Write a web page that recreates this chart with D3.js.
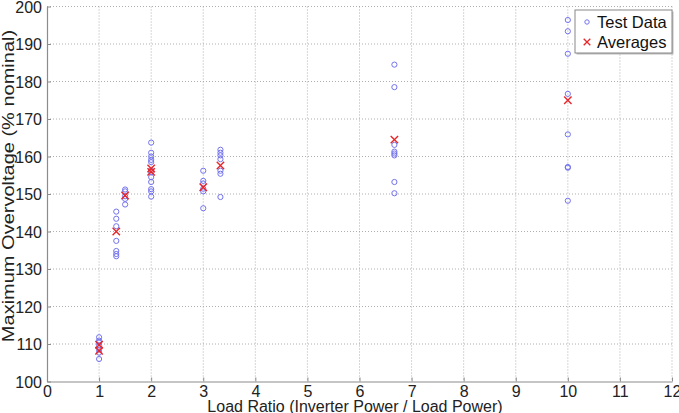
<!DOCTYPE html>
<html>
<head>
<meta charset="utf-8">
<script src="https://cdn.jsdelivr.net/npm/d3@7"></script>
<style>
  body { margin: 0; background: #fff; }
  svg text { font-family: "Liberation Sans", Arial, sans-serif; }
</style>
</head>
<body>
<svg id="chart" width="679" height="413"></svg>
<script>
// load ratio for each test group
const ratios = [1, 1.33, 1.5, 2, 3, 3.33, 6.67, 10];

// measured overvoltage (% nominal) per group
const testData = [
  [111.8, 110.9, 110.4, 109.6, 108.5, 107.7, 106.0],
  [145.3, 143.4, 141.4, 137.5, 134.8, 134.0, 133.4],
  [151.2, 150.7, 149.4, 148.7, 147.2],
  [163.7, 161.0, 160.0, 159.1, 158.5, 156.3, 155.8, 154.5, 153.2, 151.3, 150.7, 149.3],
  [156.2, 153.5, 152.8, 151.4, 150.7, 146.2],
  [161.8, 161.0, 160.3, 159.3, 156.2, 155.4, 149.2],
  [184.5, 178.5, 163.1, 161.3, 160.8, 160.3, 153.2, 150.2],
  [196.4, 193.4, 187.4, 176.7, 165.9, 157.2, 157.0, 148.2]
];

// averages (some ratios have two)
const avgX = [1, 1, 1.33, 1.5, 2, 2, 3, 3.33, 6.67, 10];
const avgY = [109.8, 108.2, 140.0, 149.6, 156.8, 155.9, 151.8, 157.6, 164.5, 175.0];

const xTicks = d3.range(0, 13);
const yTicks = d3.range(100, 201, 10);

const margin = {top: 6.5, right: 7, bottom: 31.5, left: 47};
const svg = d3.select("#chart");
const width = 679 - margin.left - margin.right;
const height = 413 - margin.top - margin.bottom;

const x = d3.scaleLinear().domain([0, 12]).range([0, width]);
const y = d3.scaleLinear().domain([100, 200]).range([height, 0]);

const g = svg.append("g").attr("transform", "translate(" + margin.left + "," + margin.top + ")");

// dotted grid
g.append("g").selectAll("line").data(xTicks.slice(1)).enter().append("line")
  .attr("x1", d => x(d)).attr("x2", d => x(d)).attr("y1", 0).attr("y2", height)
  .attr("stroke", "#9a9a9a").attr("stroke-width", 0.8).attr("stroke-dasharray", "1,2");
g.append("g").selectAll("line").data(yTicks.slice(1)).enter().append("line")
  .attr("x1", 0).attr("x2", width).attr("y1", d => y(d)).attr("y2", d => y(d))
  .attr("stroke", "#9a9a9a").attr("stroke-width", 0.8).attr("stroke-dasharray", "1,2");

// axes
let xAxis = d3.axisBottom(x).tickValues(xTicks).tickSizeInner(-4).tickSizeOuter(0).tickPadding(4);
let gx = g.append("g").attr("transform", "translate(0," + height + ")").call(xAxis);
let yAxis = d3.axisLeft(y).tickValues(yTicks).tickSizeInner(-4).tickSizeOuter(0).tickPadding(5);
let gy = g.append("g").call(yAxis);

[gx, gy].forEach(a => {
  a.select(".domain").attr("stroke", "#8c8c8c").attr("stroke-width", 1.2);
  a.selectAll(".tick line").attr("stroke", "#8c8c8c");
  a.selectAll("text").attr("font-size", 16).attr("fill", "#222")
    .style("font-family", "'Liberation Sans', Arial, sans-serif");
});
gy.selectAll("text").attr("dy", "0.35em");

// test data circles
const pts = [];
ratios.forEach((r, i) => testData[i].forEach(v => pts.push({x: r, y: v})));
g.append("g").selectAll("circle").data(pts).enter().append("circle")
  .attr("cx", d => x(d.x)).attr("cy", d => y(d.y)).attr("r", 2.6)
  .attr("fill", "none").attr("stroke", "#7373ee").attr("stroke-width", 1);

// averages crosses
const cross = s => "M" + (-s) + "," + (-s) + "L" + s + "," + s + "M" + (-s) + "," + s + "L" + s + "," + (-s);
g.append("g").selectAll("path").data(avgX.map((d, i) => ({x: d, y: avgY[i]}))).enter().append("path")
  .attr("transform", d => "translate(" + x(d.x) + "," + y(d.y) + ")")
  .attr("d", cross(3.7)).attr("stroke", "#e8262a").attr("stroke-width", 1.4).attr("fill", "none");

// axis labels
svg.append("text").attr("x", 355).attr("y", 412)
  .attr("text-anchor", "middle").attr("font-size", 16).attr("fill", "#222")
  .text("Load Ratio (Inverter Power / Load Power)");
svg.append("text").attr("transform", "translate(14,186) rotate(-90) scale(1.25,1)")
  .attr("text-anchor", "middle").attr("font-size", 16).attr("fill", "#222")
  .text("Maximum Overvoltage (% nominal)");

// legend
const lg = svg.append("g").attr("transform", "translate(575,10)");
lg.append("rect").attr("x", 1.5).attr("y", 1.5).attr("width", 97).attr("height", 43).attr("fill", "#bbb");
lg.append("rect").attr("width", 97).attr("height", 43).attr("fill", "#fff").attr("stroke", "#888").attr("stroke-width", 1);
lg.append("circle").attr("cx", 12).attr("cy", 12).attr("r", 2.2).attr("fill", "none").attr("stroke", "#7373ee");
lg.append("path").attr("transform", "translate(12,32)").attr("d", cross(3.3)).attr("stroke", "#e8262a").attr("stroke-width", 1.3);
lg.append("text").attr("x", 22).attr("y", 18).attr("font-size", 16.5).attr("fill", "#111").text("Test Data");
lg.append("text").attr("x", 22).attr("y", 38).attr("font-size", 16.5).attr("fill", "#111").text("Averages");
</script>
</body>
</html>
